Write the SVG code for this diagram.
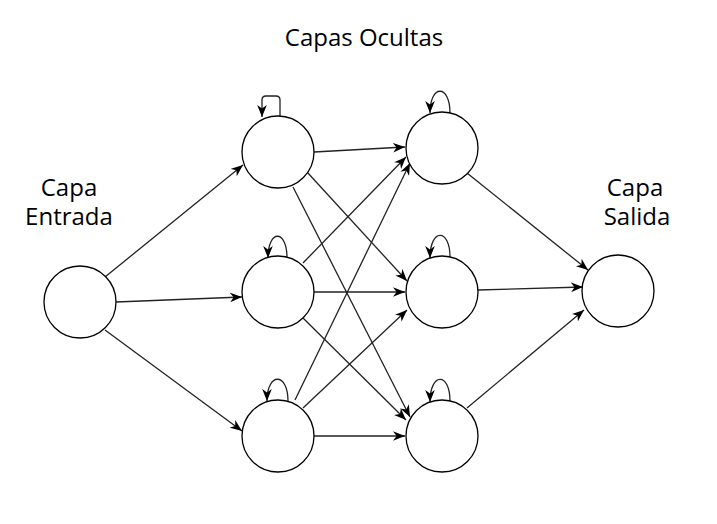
<svg xmlns="http://www.w3.org/2000/svg" width="717" height="524" viewBox="0 0 717 524">
<style>
.n{fill:#fff;stroke:#000;stroke-width:1.3}
.e{fill:none;stroke:#222;stroke-width:1.3;marker-end:url(#ar)}
.t{font-family:"Open Sans","Noto Sans",sans-serif;font-size:24px;fill:#000;text-anchor:middle}
</style>
<defs>
<marker id="ar" markerUnits="userSpaceOnUse" viewBox="0 0 10 8" refX="10" refY="4" markerWidth="12" markerHeight="10" orient="auto">
<path d="M0,0 L10,4 L0,8 L3,4 Z" fill="#000"/>
</marker>
</defs>
<rect width="717" height="524" fill="#fff"/>
<g id="connectors">
<line class="e" x1="105" y1="277" x2="243" y2="165"/>
<line class="e" x1="116" y1="302" x2="242" y2="297"/>
<line class="e" x1="105" y1="330" x2="242" y2="431"/>
<line class="e" x1="314" y1="152" x2="405" y2="147"/>
<line class="e" x1="303" y1="263" x2="406" y2="157"/>
<line class="e" x1="295" y1="400" x2="410" y2="163"/>
<line class="e" x1="307" y1="172" x2="407" y2="281"/>
<line class="e" x1="293" y1="187" x2="410" y2="417"/>
<line class="e" x1="314" y1="292" x2="405" y2="292"/>
<line class="e" x1="303" y1="318" x2="406" y2="420"/>
<line class="e" x1="303" y1="408" x2="407" y2="310"/>
<line class="e" x1="314" y1="436" x2="405" y2="436"/>
<line class="e" x1="467" y1="173" x2="588" y2="270"/>
<line class="e" x1="478" y1="290" x2="583" y2="287"/>
<line class="e" x1="467" y1="408" x2="584" y2="310"/>
<path class="e" d="M280,116 V100 Q280,96 276,96 H266 Q262,96 262,100 V117"/>
<path class="e" d="M450,113 C450,84 430,84 430,113"/>
<path class="e" d="M287,258 C287,229 268,229 268,258"/>
<path class="e" d="M288,401 C288,372 267,372 267,401"/>
<path class="e" d="M450,257 C450,228 430,228 430,258"/>
<path class="e" d="M450,401 C450,372 430,372 430,402"/>
</g>
<g id="input"><circle class="n" cx="80" cy="302" r="36"/></g>
<g id="h1a"><circle class="n" cx="278" cy="152" r="36"/></g>
<g id="h1b"><circle class="n" cx="278" cy="292" r="36"/></g>
<g id="h1c"><circle class="n" cx="278" cy="436" r="36"/></g>
<g id="h2a"><circle class="n" cx="442" cy="148" r="36"/></g>
<g id="h2b"><circle class="n" cx="442" cy="292" r="36"/></g>
<g id="h2c"><circle class="n" cx="442" cy="436" r="36"/></g>
<g id="output"><circle class="n" cx="618" cy="291" r="36"/></g>
<g id="labels">
<text class="t" x="364" y="46">Capas Ocultas</text>
<text class="t"><tspan x="69" y="196">Capa</tspan><tspan x="69" y="225">Entrada</tspan></text>
<text class="t"><tspan x="635" y="196">Capa</tspan><tspan x="637" y="225">Salida</tspan></text>
</g>
</svg>
